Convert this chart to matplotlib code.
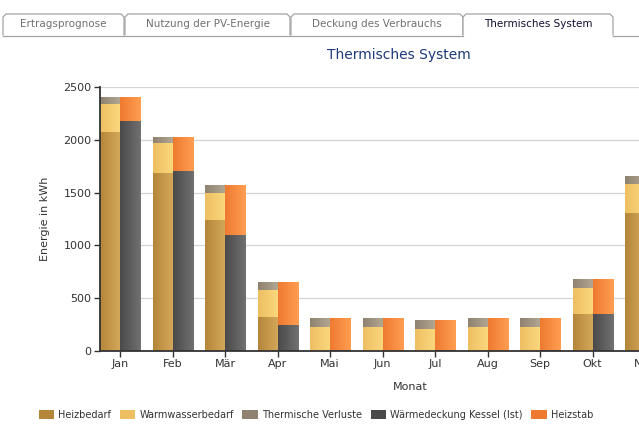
import numpy as np
import matplotlib
matplotlib.use("Agg")
import matplotlib.pyplot as plt
from matplotlib.colors import LinearSegmentedColormap
from matplotlib.patches import Patch, Polygon

# monthly energy values in kWh
monate = ["Jan", "Feb", "Mär", "Apr", "Mai", "Jun", "Jul", "Aug", "Sep", "Okt", "Nov"]
heizbedarf = [2070, 1687, 1242, 322, 0, 0, 0, 0, 0, 351, 1307]
warmwasser = [272, 285, 256, 256, 228, 228, 209, 228, 228, 246, 277]
verluste = [66, 57, 76, 76, 85, 85, 85, 85, 85, 86, 73]
kessel = [2180, 1700, 1103, 246, 10, 0, 10, 0, 10, 351, 1400]
heizstab = [228, 329, 471, 408, 303, 313, 284, 313, 303, 332, 257]

tabs = ["Ertragsprognose", "Nutzung der PV-Energie", "Deckung des Verbrauchs", "Thermisches System"]

# (dark, light) pairs for the horizontal gradient on each series
farben = {
    "Heizbedarf": ("#b5863a", "#d4a95c"),
    "Warmwasserbedarf": ("#eebf62", "#fbd87e"),
    "Thermische Verluste": ("#8f8270", "#b3a894"),
    "Wärmedeckung Kessel (Ist)": ("#4a4a4a", "#717171"),
    "Heizstab": ("#ee7a30", "#ff9e52"),
}

W, H = 639, 441
fig = plt.figure(figsize=(W / 100, H / 100), dpi=100)

# chart area runs past the right edge (chart is cut off like the original)
ax = fig.add_axes([100 / W, 90 / H, 598 / W, 264 / H])

x = np.arange(len(monate))
bw = 0.381


def gradient_bars(bars, c0, c1):
    # paint a left-to-right gradient into every bar patch
    cmap = LinearSegmentedColormap.from_list("g", [c0, c1])
    grad = np.linspace(0, 1, 64).reshape(1, -1)
    for b in bars:
        if b.get_height() <= 0:
            continue
        b.set_facecolor(c0)
        x0, y0 = b.get_x(), b.get_y()
        im = ax.imshow(grad, cmap=cmap, aspect="auto", interpolation="bilinear",
                       extent=(x0, x0 + b.get_width(), y0, y0 + b.get_height()),
                       zorder=3)
        im.set_clip_path(b)


links = x - bw / 2
rechts = x + bw / 2
unten = np.zeros(len(monate))
for name, werte in [("Heizbedarf", heizbedarf), ("Warmwasserbedarf", warmwasser),
                    ("Thermische Verluste", verluste)]:
    bars = ax.bar(links, werte, bw, bottom=unten, linewidth=0, zorder=2)
    gradient_bars(bars, *farben[name])
    unten = unten + np.array(werte)

unten = np.zeros(len(monate))
for name, werte in [("Wärmedeckung Kessel (Ist)", kessel), ("Heizstab", heizstab)]:
    bars = ax.bar(rechts, werte, bw, bottom=unten, linewidth=0, zorder=2)
    gradient_bars(bars, *farben[name])
    unten = unten + np.array(werte)

ax.set_xlim(-bw, -bw + 598 / 52.5)
ax.set_ylim(0, 2500)
ax.set_xticks(x)
ax.set_xticklabels(monate)
ax.set_yticks(np.arange(0, 2501, 500))
ax.tick_params(axis="both", labelsize=8, colors="#333333", length=4, width=1, pad=2)
ax.yaxis.grid(True, color="#d4d4d4", linewidth=0.9, zorder=0)
ax.set_axisbelow(True)
for s in ["top", "right"]:
    ax.spines[s].set_visible(False)
for s in ["left", "bottom"]:
    ax.spines[s].set_color("#333333")
    ax.spines[s].set_linewidth(1.3)
    ax.spines[s].set_zorder(5)

ax.set_ylabel("Energie in kWh", fontsize=8, color="#333333", labelpad=10)
ax.set_xlabel("Monat", fontsize=8, color="#333333")
ax.xaxis.set_label_coords((410 - 100) / 598, -(382 - 351) / 264)
ax.set_title("Thermisches System", fontsize=10, color="#1f3b7a", pad=20)

# overlay in pixel coordinates for the tab strip and the small marker
ov = fig.add_axes([0, 0, 1, 1], zorder=-1)
ov.set_xlim(0, W)
ov.set_ylim(H, 0)
ov.axis("off")

tab_x = [(3, 124), (125, 290), (291, 463), (463, 613)]
for i, ((x0, x1), label) in enumerate(zip(tab_x, tabs)):
    aktiv = i == len(tabs) - 1
    pts = [(x0, 35.5), (x0, 17), (x0 + 3, 14), (x1 - 3, 14), (x1, 17), (x1, 35.5)]
    ov.add_patch(Polygon(pts, closed=False, facecolor="white", edgecolor="#a3a3a3", linewidth=0.9))
    ov.text((x0 + x1) / 2, 24, label, fontsize=7.5, ha="center", va="center",
            color="#111133" if aktiv else "#707070")
ov.plot([3, 463], [35.5, 35.5], color="#a3a3a3", linewidth=0.9)
ov.plot([613, W], [35.5, 35.5], color="#a3a3a3", linewidth=0.9)

ov.plot([399], [164], marker="o", markersize=4, markerfacecolor="none",
        markeredgecolor="#9a9ab8", markeredgewidth=0.9)

handles = [Patch(facecolor=farben[n][0], edgecolor="none") for n in farben]
fig.legend(handles, list(farben.keys()), loc="center left",
           bbox_to_anchor=(30 / W, 1 - 415 / H), ncol=5, frameon=False,
           fontsize=7, handlelength=1.6, handleheight=1.0, handletextpad=0.4,
           columnspacing=0.9, labelcolor="#333333")

fig.savefig("out.png", dpi=100)
